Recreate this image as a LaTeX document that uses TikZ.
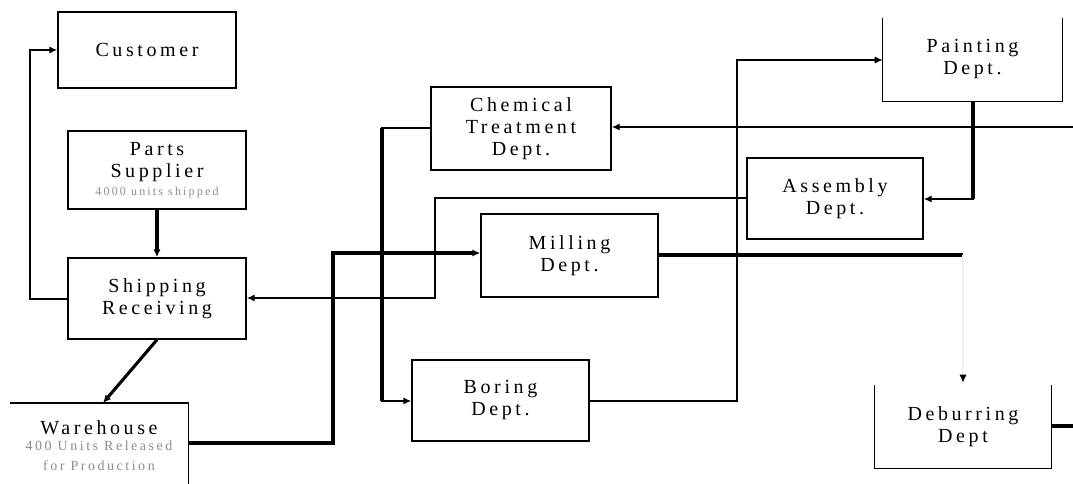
\documentclass[tikz,border=0pt]{standalone}
\usepackage{fontspec}
\setmainfont{Liberation Serif}[LetterSpace=18]
\usetikzlibrary{arrows.meta,calc}
\newcommand\subtxt[2]{{\fontsize{#1}{#1}\selectfont\color{black!45}#2}}
\begin{document}
\begin{tikzpicture}[x=0.75pt,y=-0.75pt,
  box/.style={draw,line width=1.1pt,inner sep=0pt,align=center,font=\fontsize{15}{16.5}\selectfont},
  openbox/.style={inner sep=0pt,align=center,font=\fontsize{15}{16.5}\selectfont},
  thin/.style={line width=1.1pt},
  heavy/.style={line width=2.3pt},
  tip/.style={-{Latex[length=6pt,width=5.5pt]}}]
\useasboundingbox (0,0) rectangle (1073,484);
% nodes
\node[box,minimum width=133.5pt,minimum height=57pt] (cust) at (147,50) {Customer};
\node[box,minimum width=133.5pt,minimum height=58.5pt] (parts) at (157,170) {Parts\\Supplier\\[-3pt]\subtxt{9}{4000 units shipped}};
\node[box,minimum width=133.5pt,minimum height=60.75pt] (ship) at (157,298.5) {Shipping\\Receiving};
\node[openbox,minimum width=133.5pt,minimum height=63pt,anchor=north] (wh) at (99,403) {Warehouse\\[-4pt]\subtxt{10.5}{400 Units Released}\\[-2pt]\subtxt{10.5}{for Production}};
\node[box,minimum width=135pt,minimum height=62.25pt] (chem) at (521,128.5) {Chemical\\Treatment\\Dept.};
\node[box,minimum width=132.75pt,minimum height=62.25pt] (mill) at (569.5,255.5) {Milling\\Dept.};
\node[box,minimum width=132.75pt,minimum height=60.75pt] (bor) at (500.5,400.5) {Boring\\Dept.};
\node[openbox,minimum width=134.25pt,minimum height=62.25pt] (paint) at (972.5,59.5) {Painting\\Dept.};
\node[box,minimum width=132pt,minimum height=60.75pt] (asm) at (835,198.5) {Assembly\\Dept.};
\node[openbox,minimum width=132pt,minimum height=62.25pt] (deb) at (963,426.5) {Deburring\\Dept};
% partial borders
\draw[thin] (wh.north west) -- (wh.north east) -- (wh.south east);
\draw[thin] (paint.north west) -- (paint.south west) -- (paint.south east) -- (paint.north east);
\draw[thin] (deb.north west) -- (deb.south west) -- (deb.south east) -- (deb.north east);
% free ends
\coordinate (redge1) at (1073,127);
\coordinate (redge2) at (1073,426);
\coordinate (millend) at (963,255);
% connectors
\draw[thin,tip] (ship.west |- 0,299) -- (30,299) -- (30,50) -- (cust.west);
\draw[heavy,tip] (parts.south) -- (ship.north);
\draw[heavy,tip] (ship.south) -- (wh.north -| 103,0);
\draw[heavy,tip] (wh.east |- 0,443) -- (333,443) -- (333,253) -- (mill.west |- 0,253);
\draw[thin,tip] (chem.west |- 0,128) -- (382,128) -- (382,401) -- (bor.west |- 0,401);
\draw[heavy] (382,128) -- (382,401);
\draw[thin,tip] (bor.east |- 0,401) -- (737,401) -- (737,60) -- (paint.west |- 0,60);
\draw[thin,tip] (redge1) -- (chem.east |- 0,127);
\draw[thin,tip] (paint.south -| 973,0) -- (973,199) -- (asm.east |- 0,199);
\draw[heavy] (paint.south -| 973,0) -- (973,199);
\draw[thin,tip] (asm.west |- 0,198) -- (435,198) -- (435,298) -- (ship.east |- 0,298);
\draw[heavy] (mill.east |- 0,255) -- (millend);
\draw[line width=1pt,black!5] (millend) -- ($(deb.north)+(0,-6)$);
\draw[thin,tip] ($(deb.north)+(0,-8)$) -- ($(deb.north)+(0,-2)$);
\draw[heavy] (deb.east |- 0,426) -- (redge2);
\end{tikzpicture}
\end{document}
